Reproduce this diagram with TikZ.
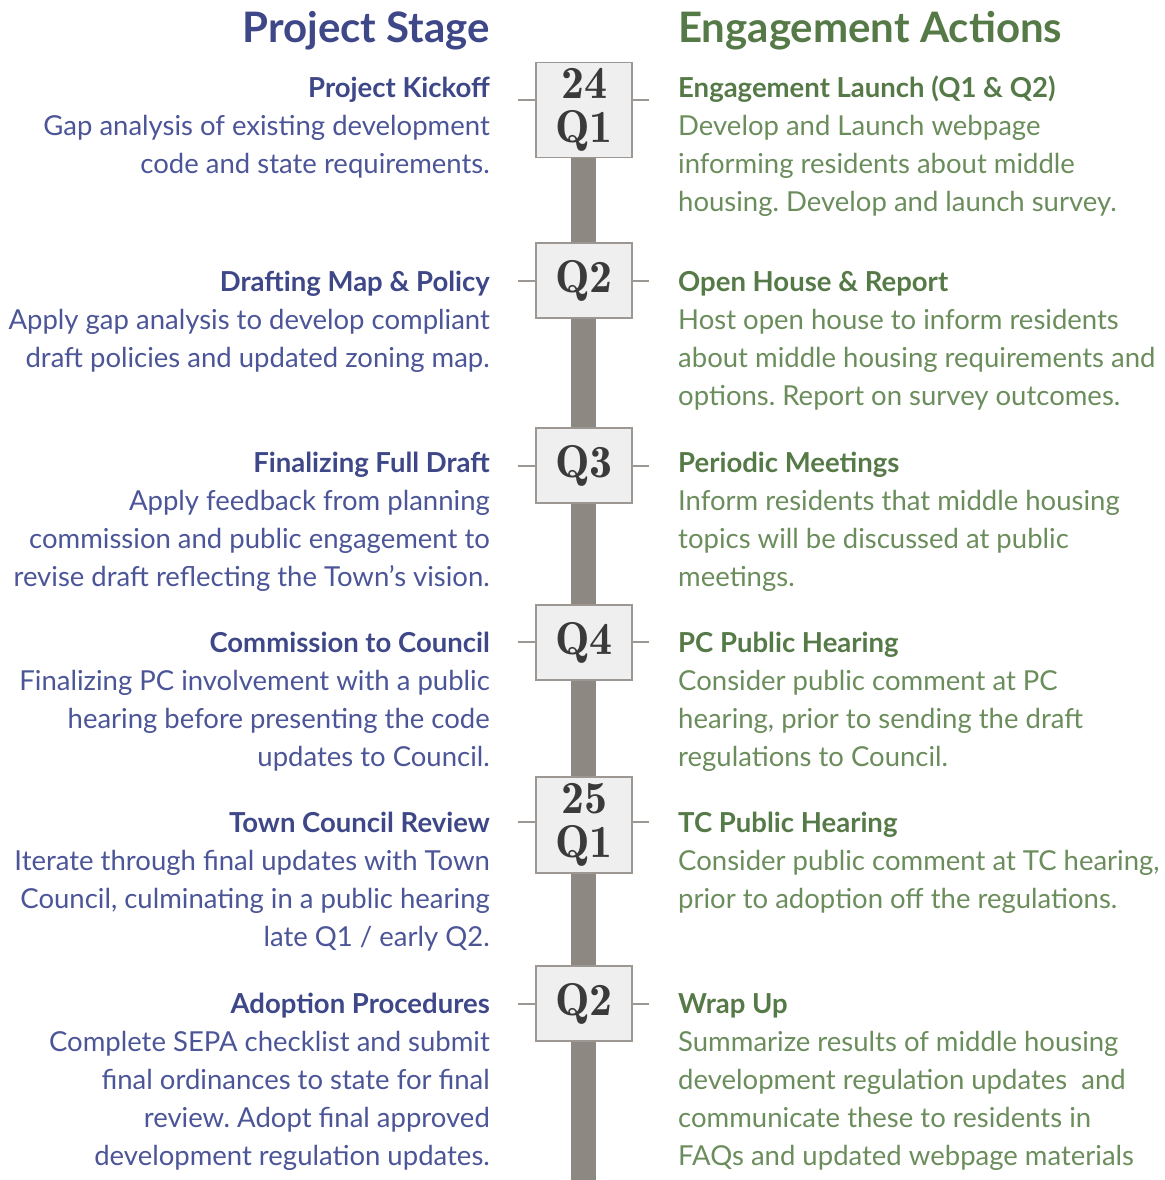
\documentclass[tikz,border=0pt]{standalone}
\usepackage{fontspec}
\setmainfont{Lato}
\newfontfamily\quarterfont[Extension=.otf]{lmromandemi10-regular}
\definecolor{titleblue}{HTML}{3E4787}
\definecolor{bodyblue}{HTML}{4B5597}
\definecolor{titlegreen}{HTML}{567A47}
\definecolor{bodygreen}{HTML}{6B8D5C}
\definecolor{bargray}{HTML}{8E8883}
\definecolor{boxfill}{HTML}{EFEFEF}
\definecolor{boxline}{HTML}{9C9792}
\definecolor{quartertext}{HTML}{3A3A3A}
\frenchspacing
\begin{document}
\begin{tikzpicture}[x=1pt,y=-1pt]
	\tikzstyle{quarter}=[draw=boxline,fill=boxfill,line width=1.3pt,minimum width=96pt,inner sep=0pt,align=center,text=quartertext,font=\quarterfont\fontsize{46}{44}\selectfont]
	\tikzstyle{stage}=[anchor=base east,align=right,inner sep=0pt,text=bodyblue,font=\fontsize{27.5}{38}\selectfont]
	\tikzstyle{action}=[anchor=base west,align=left,inner sep=0pt,text=bodygreen,font=\fontsize{27.5}{38}\selectfont]
	\tikzstyle{tick}=[draw=boxline,line width=1.3pt]
	\useasboundingbox (0,0) rectangle (1164,1180);
	% column headings
	\node[anchor=base east,inner sep=0pt,text=titleblue,font=\bfseries\fontsize{42}{44}\selectfont] (stagehead) at (490,43) {Project Stage};
	\node[anchor=base west,inner sep=0pt,text=titlegreen,font=\bfseries\fontsize{42}{44}\selectfont] (actionhead) at (678,43) {Engagement Actions};
	% timeline bar
	\fill[bargray] (571,158) rectangle (596,1180);
	% quarters
	\node[quarter,minimum height=95pt] (q1) at (584,110) {24\\Q1};
	\node[quarter,minimum height=75pt] (q2) at (584,280.5) {Q2};
	\node[quarter,minimum height=75pt] (q3) at (584,465.5) {Q3};
	\node[quarter,minimum height=75pt] (q4) at (584,642.5) {Q4};
	\node[quarter,minimum height=96pt] (q5) at (584,825) {25\\Q1};
	\node[quarter,minimum height=75pt] (q6) at (584,1003.5) {Q2};
	% ticks
	\foreach \q/\y in {q1/100,q2/281,q3/466,q4/642,q5/822,q6/1004}{
		\coordinate (\q l) at (518,\y);
		\coordinate (\q r) at (649,\y);
		\draw[tick] (\q l) -- (\q l -| \q.west) (\q.east |- \q r) -- (\q r);
	}
	% project stages (anchored at the last line)
	\node[stage] (s1) at (490,173) {\textbf{\color{titleblue}Project Kickoff}\\Gap analysis of existing development\\code and state requirements.};
	\node[stage] (s2) at (490,367) {\textbf{\color{titleblue}Drafting Map \& Policy}\\Apply gap analysis to develop compliant\\draft policies and updated zoning map.};
	\node[stage] (s3) at (490,586) {\textbf{\color{titleblue}Finalizing Full Draft}\\Apply feedback from planning\\commission and public engagement to\\revise draft reflecting the Town’s vision.};
	\node[stage] (s4) at (490,766) {\textbf{\color{titleblue}Commission to Council}\\Finalizing PC involvement with a public\\hearing before presenting the code\\updates to Council.};
	\node[stage] (s5) at (490,946) {\textbf{\color{titleblue}Town Council Review}\\Iterate through final updates with Town\\Council, culminating in a public hearing\\late Q1 / early Q2.};
	\node[stage] (s6) at (490,1165) {\textbf{\color{titleblue}Adoption Procedures}\\Complete SEPA checklist and submit\\final ordinances to state for final\\review. Adopt final approved\\development regulation updates.};
	% engagement actions
	\node[action] (a1) at (678,211) {\textbf{\color{titlegreen}Engagement Launch (Q1 \& Q2)}\\Develop and Launch webpage\\informing residents about middle\\housing. Develop and launch survey.};
	\node[action] (a2) at (678,405) {\textbf{\color{titlegreen}Open House \& Report}\\Host open house to inform residents\\about middle housing requirements and\\options. Report on survey outcomes.};
	\node[action] (a3) at (678,586) {\textbf{\color{titlegreen}Periodic Meetings}\\Inform residents that middle housing\\topics will be discussed at public\\meetings.};
	\node[action] (a4) at (678,766) {\textbf{\color{titlegreen}PC Public Hearing}\\Consider public comment at PC\\hearing, prior to sending the draft\\regulations to Council.};
	\node[action] (a5) at (678,908) {\textbf{\color{titlegreen}TC Public Hearing}\\Consider public comment at TC hearing,\\prior to adoption off the regulations.};
	\node[action] (a6) at (678,1165) {\textbf{\color{titlegreen}Wrap Up}\\Summarize results of middle housing\\development regulation updates \ and\\communicate these to residents in\\FAQs and updated webpage materials};
\end{tikzpicture}
\end{document}
